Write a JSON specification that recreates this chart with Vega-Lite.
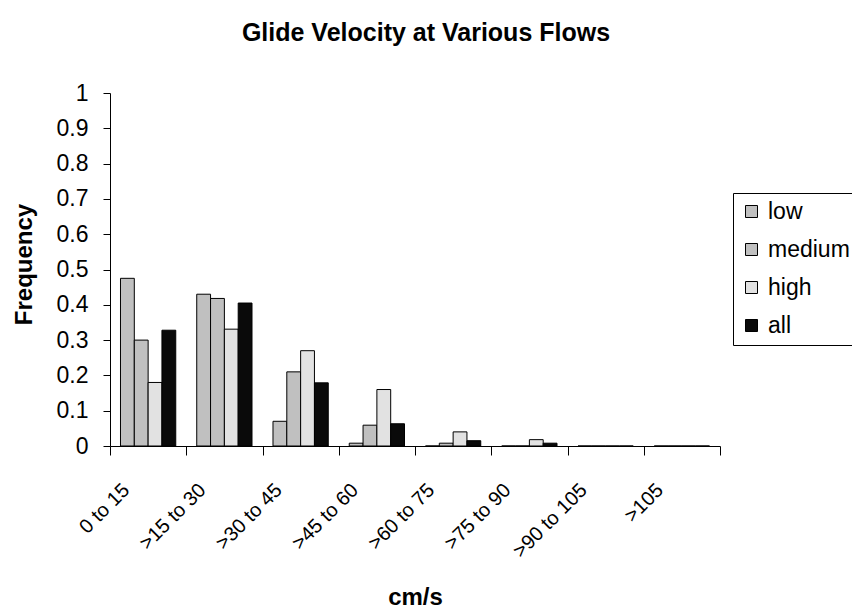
{
  "$schema": "https://vega.github.io/schema/vega-lite/v6.json",
  "autosize": "none",
  "width": 610,
  "height": 353,
  "padding": {"left": 110, "top": 93, "right": 132, "bottom": 166},
  "background": "white",
  "title": {
    "text": "Glide Velocity at Various Flows",
    "font": "Liberation Sans",
    "fontSize": 25,
    "fontWeight": "bold",
    "color": "black",
    "anchor": "middle",
    "baseline": "alphabetic",
    "offset": 16,
    "dx": 11
  },
  "data": {
    "values": [
      {"bin": "0 to 15", "flow": "low", "freq": 0.475},
      {"bin": "0 to 15", "flow": "medium", "freq": 0.30},
      {"bin": "0 to 15", "flow": "high", "freq": 0.18},
      {"bin": "0 to 15", "flow": "all", "freq": 0.328},
      {"bin": ">15 to 30", "flow": "low", "freq": 0.43},
      {"bin": ">15 to 30", "flow": "medium", "freq": 0.418},
      {"bin": ">15 to 30", "flow": "high", "freq": 0.331},
      {"bin": ">15 to 30", "flow": "all", "freq": 0.405},
      {"bin": ">30 to 45", "flow": "low", "freq": 0.07},
      {"bin": ">30 to 45", "flow": "medium", "freq": 0.21},
      {"bin": ">30 to 45", "flow": "high", "freq": 0.27},
      {"bin": ">30 to 45", "flow": "all", "freq": 0.179},
      {"bin": ">45 to 60", "flow": "low", "freq": 0.008},
      {"bin": ">45 to 60", "flow": "medium", "freq": 0.059},
      {"bin": ">45 to 60", "flow": "high", "freq": 0.16},
      {"bin": ">45 to 60", "flow": "all", "freq": 0.063},
      {"bin": ">60 to 75", "flow": "low", "freq": 0},
      {"bin": ">60 to 75", "flow": "medium", "freq": 0.008},
      {"bin": ">60 to 75", "flow": "high", "freq": 0.04},
      {"bin": ">60 to 75", "flow": "all", "freq": 0.015},
      {"bin": ">75 to 90", "flow": "low", "freq": 0},
      {"bin": ">75 to 90", "flow": "medium", "freq": 0},
      {"bin": ">75 to 90", "flow": "high", "freq": 0.018},
      {"bin": ">75 to 90", "flow": "all", "freq": 0.008},
      {"bin": ">90 to 105", "flow": "low", "freq": 0},
      {"bin": ">90 to 105", "flow": "medium", "freq": 0},
      {"bin": ">90 to 105", "flow": "high", "freq": 0},
      {"bin": ">90 to 105", "flow": "all", "freq": 0},
      {"bin": ">105", "flow": "low", "freq": 0},
      {"bin": ">105", "flow": "medium", "freq": 0},
      {"bin": ">105", "flow": "high", "freq": 0},
      {"bin": ">105", "flow": "all", "freq": 0}
    ]
  },
  "mark": {"type": "bar", "stroke": "black", "strokeWidth": 1},
  "encoding": {
    "x": {
      "field": "bin",
      "type": "nominal",
      "sort": null,
      "scale": {"paddingInner": 0, "paddingOuter": 0},
      "axis": {
        "title": "cm/s",
        "titleFont": "Liberation Sans",
        "titleFontSize": 24,
        "titleFontWeight": "bold",
        "titleColor": "black",
        "titleY": 158,
        "titleBaseline": "alphabetic",
        "labelFont": "Liberation Sans",
        "labelFontSize": 20,
        "labelColor": "black",
        "labelAngle": -45,
        "labelAlign": "right",
        "labelBaseline": "alphabetic",
        "labelPadding": 36,
        "labelOffset": -18,
        "labelOverlap": false,
        "tickBand": "extent",
        "tickSize": 9,
        "tickColor": "black",
        "domainColor": "black",
        "grid": false
      }
    },
    "xOffset": {
      "field": "flow",
      "type": "nominal",
      "sort": ["low", "medium", "high", "all"],
      "scale": {"paddingInner": 0, "paddingOuter": 0.76}
    },
    "y": {
      "field": "freq",
      "type": "quantitative",
      "scale": {"domain": [0, 1], "nice": false},
      "axis": {
        "title": "Frequency",
        "titleFont": "Liberation Sans",
        "titleFontSize": 24,
        "titleFontWeight": "bold",
        "titleColor": "black",
        "titleX": -79,
        "titleY": 171,
        "titleBaseline": "alphabetic",
        "values": [0, 0.1, 0.2, 0.3, 0.4, 0.5, 0.6, 0.7, 0.8, 0.9, 1],
        "format": "~g",
        "labelFont": "Liberation Sans",
        "labelFontSize": 23,
        "labelColor": "black",
        "labelPadding": 15,
        "tickSize": 7,
        "tickColor": "black",
        "domainColor": "black",
        "grid": false
      }
    },
    "color": {
      "field": "flow",
      "type": "nominal",
      "scale": {
        "domain": ["low", "medium", "high", "all"],
        "range": ["#C0C0C0", "#C0C0C0", "#E2E2E2", "#0A0A0A"]
      },
      "legend": {
        "title": null,
        "orient": "none",
        "legendX": 623,
        "legendY": 100,
        "padding": 7,
        "strokeColor": "black",
        "fillColor": "white",
        "symbolType": "square",
        "symbolSize": 144,
        "symbolStrokeColor": "black",
        "symbolStrokeWidth": 1,
        "labelFont": "Liberation Sans",
        "labelFontSize": 23,
        "labelColor": "black",
        "labelOffset": 5,
        "rowPadding": 14
      }
    }
  },
  "config": {
    "view": {"stroke": null}
  }
}
